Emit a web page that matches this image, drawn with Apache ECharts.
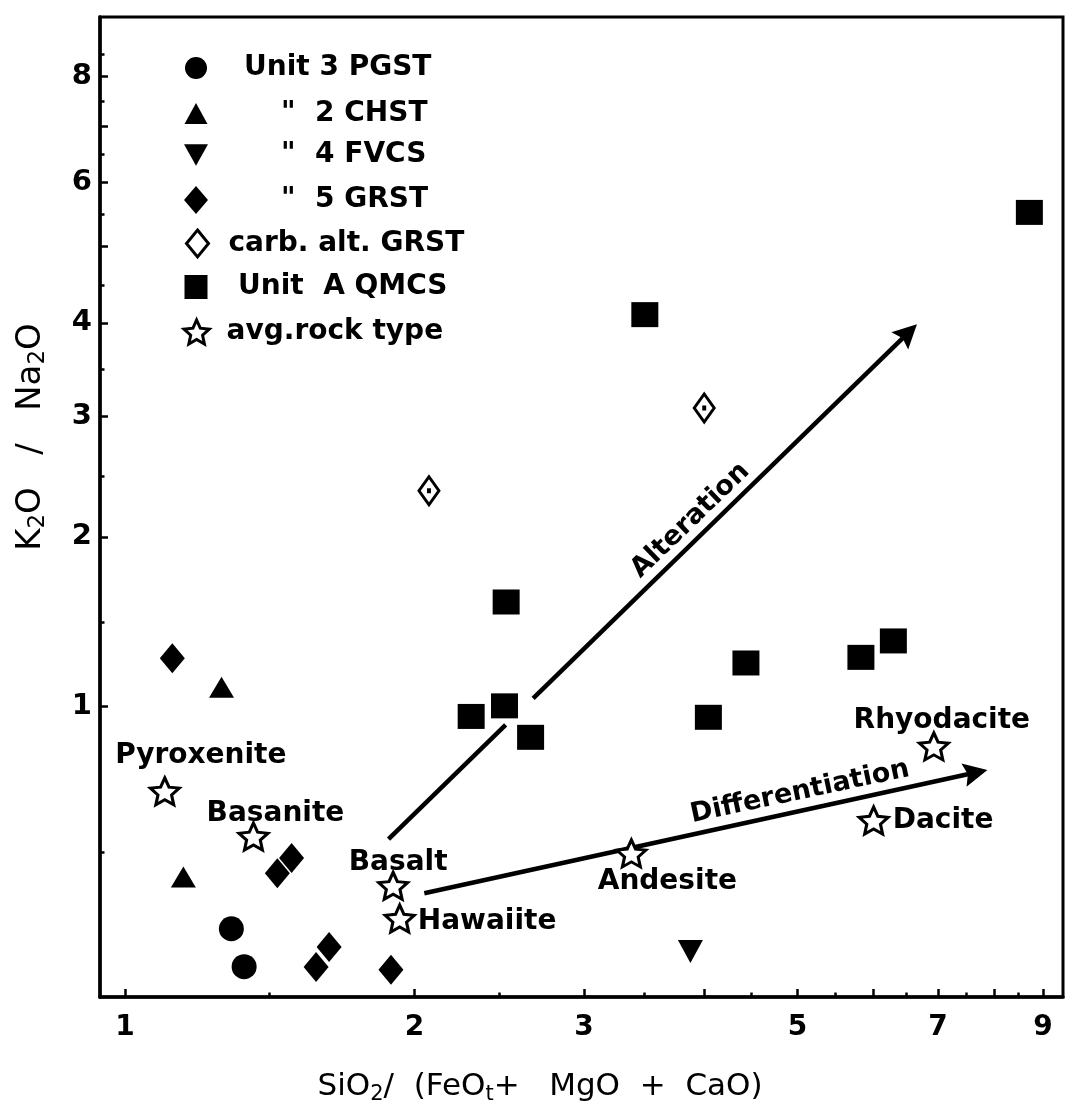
<!DOCTYPE html>
<html>
<head>
<meta charset="utf-8">
<script src="https://cdn.jsdelivr.net/npm/echarts@6/dist/echarts.min.js"></script>
<style>
  html, body { margin: 0; padding: 0; background: #fff; }
  #chart { width: 1071px; height: 1111px; }
</style>
</head>
<body>
<div id="chart"></div>
<script>
// K2O/Na2O against SiO2/(FeOt+MgO+CaO), both on logarithmic scales.

// ---- sample groups: x = SiO2/(FeOt+MgO+CaO), y = K2O/Na2O ----
const pgstX = [1.29, 1.33];
const pgstY = [0.177, 0.075];

const chstX = [1.26, 1.15];
const chstY = [1.095, 0.332];

const fvcsX = [3.87];
const fvcsY = [0.115];

const grstX = [1.12, 1.49, 1.44, 1.58, 1.63, 1.89];
const grstY = [1.245, 0.394, 0.344, 0.074, 0.127, 0.067];

const carbX = [2.07, 4.00];
const carbY = [2.35, 3.08];

const qmcsX = [2.29, 2.48, 2.64, 2.49, 3.47, 4.04, 4.42, 5.82, 6.29, 8.71];
const qmcsY = [0.954, 1.004, 0.859, 1.568, 4.10, 0.95, 1.22, 1.25, 1.34, 5.51];

// average rock types
const rockNames = ['Pyroxenite', 'Basanite', 'Basalt', 'Hawaiite', 'Andesite', 'Dacite', 'Rhyodacite'];
const rockX = [1.10, 1.36, 1.90, 1.93, 3.36, 6.00, 6.93];
const rockY = [0.634, 0.467, 0.304, 0.206, 0.409, 0.524, 0.819];

// trend arrows (x, y pairs); the alteration arrow is broken around the squares
const alterationPath = [[1.879, 0.458], [2.487, 0.915], [2.656, 1.040], [6.52, 3.886]];
const differentiationPath = [[2.047, 0.281], [7.66, 0.709]];
const trendNames = ['Alteration', 'Differentiation'];
const trendLabelX = [3.87, 5.03];
const trendLabelY = [2.12, 0.631];

// ---- axes ----
const xRange = [0.942, 9.44];
const yRange = [0, 9.38];
const xMajorTicks = [1, 2, 3, 4, 5, 6, 7, 8, 9];
const xMinorTicks = [1.414, 2.449, 3.464, 4.472, 5.477, 6.481, 7.483, 8.485];
const xTickLabels = [1, 2, 3, 5, 7, 9];
const yMajorTicks = [1, 2, 3, 4, 5, 6, 7, 8];
const yMinorTicks = [0.414, 1.449, 2.464, 3.472, 4.477, 5.481, 6.483, 7.485, 8.487];
const yTickLabels = [1, 2, 3, 4, 6, 8];

// axis transforms: x is log10(x), y is log10(1 + y)
const toU = x => Math.log10(x);
const toV = y => Math.log10(1 + y);
const pts = (xs, ys) => xs.map((x, i) => [toU(x), toV(ys[i])]);

const FONT = '"DejaVu Sans", "Liberation Sans", sans-serif';
const INK = '#000';

const STAR = 'path://M50,2L63.8,33L97.6,36.5L72.4,59.3L79.4,92.5L50,75.5L20.6,92.5L27.6,59.3L2.4,36.5L36.2,33Z';
const DOWN_TRI = 'path://M0,0L10,0L5,9Z';
const DOTTED_DIAMOND = 'path://M10,0L20,14L10,28L0,14Z M9.3,13.3L10.7,13.3L10.7,14.7L9.3,14.7Z';
const ARROW_HEAD = 'path://M6,0L12,24L6,20L0,24Z';

const names = {
  pgst: 'Unit 3 PGST',
  chst: '"  2 CHST',
  fvcs: '"  4 FVCS',
  grst: '"  5 GRST',
  carb: 'carb. alt. GRST',
  qmcs: 'Unit  A QMCS',
  rock: 'avg.rock type'
};

// label placement of the rock-type names around their stars
const rockLabelPlacement = {
  Pyroxenite: { position: 'inside', offset: [36, -36] },
  Basanite:   { position: 'inside', offset: [22, -23] },
  Basalt:     { position: 'inside', offset: [5, -23] },
  Hawaiite:   { position: 'right', distance: 2, offset: [0, 3] },
  Andesite:   { position: 'inside', offset: [36, 28] },
  Dacite:     { position: 'right', distance: 3, offset: [0, 0] },
  Rhyodacite: { position: 'inside', offset: [8, -26] }
};
const trendLabelRotate = { Alteration: 44, Differentiation: 12 };

const labelText = { fontFamily: FONT, fontWeight: 'bold', fontSize: 28, color: INK, textBorderWidth: 0, opacity: 1 };

// legend: one block per row so every icon keeps its own size
const legendRows = [
  { name: names.pgst, cy: 65,  w: 22, h: 22, textX: 244 },
  { name: names.chst, cy: 110, w: 23, h: 21, textX: 281 },
  { name: names.fvcs, cy: 152, w: 24, h: 22, textX: 281 },
  { name: names.grst, cy: 200, w: 24, h: 28, textX: 281 },
  { name: names.carb, cy: 242, w: 22, h: 27, textX: 227, border: 3, icon: 'diamond' },
  { name: names.qmcs, cy: 285, w: 23, h: 24, textX: 238 },
  { name: names.rock, cy: 330, w: 27, h: 24, textX: 226, border: 3 }
];
const ICON_CX = 196;
const legends = legendRows.map(r => ({
  data: [r.icon ? { name: r.name, icon: r.icon } : r.name],
  left: ICON_CX - r.w / 2,
  top: r.cy - r.h / 2,
  itemWidth: r.w,
  itemHeight: r.h,
  padding: 0,
  selectedMode: false,
  itemStyle: r.border ? { borderWidth: r.border, borderColor: INK } : undefined,
  formatter: '{sp| }{t|{name}}',
  textStyle: {
    rich: {
      sp: { width: r.textX - (ICON_CX + r.w / 2) - 5, fontSize: 28, lineHeight: 20 },
      t: { fontFamily: FONT, fontWeight: 'bold', fontSize: 28, lineHeight: 20, color: INK }
    }
  }
}));

const axisCommon = {
  type: 'value',
  splitLine: { show: false },
  axisPointer: { show: false }
};
const tickStyle = { color: INK, width: 2.5 };
const tickLabel = { fontFamily: FONT, fontWeight: 'bold', fontSize: 28, color: INK };
const solid = { color: INK, opacity: 1 };

const option = {
  animation: false,
  backgroundColor: '#fff',
  textStyle: { fontFamily: FONT },
  grid: {
    left: 100, right: 8, top: 17, bottom: 114,
    show: true, borderColor: INK, borderWidth: 3, backgroundColor: 'transparent'
  },
  legend: legends,
  xAxis: [
    Object.assign({}, axisCommon, {
      min: toU(xRange[0]), max: toU(xRange[1]), position: 'bottom',
      axisLine: { show: true, onZero: false, lineStyle: { color: INK, width: 3.5 } },
      axisTick: { show: true, inside: true, length: 8, lineStyle: tickStyle, customValues: xMajorTicks.map(toU) },
      axisLabel: Object.assign({
        show: true, margin: 17,
        customValues: xTickLabels.map(toU),
        formatter: v => String(Math.round(Math.pow(10, v)))
      }, tickLabel)
    }),
    Object.assign({}, axisCommon, {
      min: toU(xRange[0]), max: toU(xRange[1]), position: 'bottom',
      axisLine: { show: false, onZero: false },
      axisTick: { show: true, inside: true, length: 4.5, lineStyle: tickStyle, customValues: xMinorTicks.map(toU) },
      axisLabel: { show: false }
    })
  ],
  yAxis: [
    Object.assign({}, axisCommon, {
      min: toV(yRange[0]), max: toV(yRange[1]), position: 'left',
      axisLine: { show: true, onZero: false, lineStyle: { color: INK, width: 3.5 } },
      axisTick: { show: true, inside: true, length: 8, lineStyle: tickStyle, customValues: yMajorTicks.map(toV) },
      axisLabel: Object.assign({
        show: true, margin: 8,
        customValues: yTickLabels.map(toV),
        formatter: v => String(Math.round(Math.pow(10, v) - 1))
      }, tickLabel, { fontSize: 29 })
    }),
    Object.assign({}, axisCommon, {
      min: toV(yRange[0]), max: toV(yRange[1]), position: 'left',
      axisLine: { show: false, onZero: false },
      axisTick: { show: true, inside: true, length: 4.5, lineStyle: tickStyle, customValues: yMinorTicks.map(toV) },
      axisLabel: { show: false }
    })
  ],
  graphic: [
    {
      type: 'text', x: 540, y: 1087, silent: true,
      style: {
        text: '{n|SiO}{s|2}{n|/  (FeO}{s|t}{n|+   MgO  +  CaO)}',
        align: 'center', verticalAlign: 'middle',
        rich: {
          n: { fontFamily: FONT, fontSize: 31, lineHeight: 36, fill: INK, verticalAlign: 'middle' },
          s: { fontFamily: FONT, fontSize: 21, lineHeight: 21, fill: INK, verticalAlign: 'bottom' }
        }
      }
    },
    {
      type: 'text', x: 31, y: 437, rotation: Math.PI / 2, silent: true,
      style: {
        text: '{n|K}{s|2}{n|O   /   Na}{s|2}{n|O}',
        align: 'center', verticalAlign: 'middle',
        rich: {
          n: { fontFamily: FONT, fontSize: 34, lineHeight: 38, fill: INK, verticalAlign: 'middle' },
          s: { fontFamily: FONT, fontSize: 23, lineHeight: 23, fill: INK, verticalAlign: 'bottom' }
        }
      }
    }
  ],
  series: [
    {
      type: 'lines', coordinateSystem: 'cartesian2d', silent: true, z: 1,
      lineStyle: { color: INK, width: 4.5, opacity: 1, curveness: 0 },
      symbol: ['none', 'none'],
      data: [{ coords: pts([alterationPath[0][0], alterationPath[1][0]], [alterationPath[0][1], alterationPath[1][1]]) }]
    },
    {
      type: 'lines', coordinateSystem: 'cartesian2d', silent: true, z: 1,
      lineStyle: { color: INK, width: 4.5, opacity: 1, curveness: 0 },
      symbol: ['none', ARROW_HEAD], symbolSize: [14, 24],
      data: [
        { coords: pts([alterationPath[2][0], alterationPath[3][0]], [alterationPath[2][1], alterationPath[3][1]]) },
        { coords: pts(differentiationPath.map(p => p[0]), differentiationPath.map(p => p[1])) }
      ]
    },
    {
      name: names.pgst, type: 'scatter', symbol: 'circle', symbolSize: 25, z: 3,
      itemStyle: solid, data: pts(pgstX, pgstY)
    },
    {
      name: names.chst, type: 'scatter', symbol: 'triangle', symbolSize: [25, 21], z: 3,
      itemStyle: solid, data: pts(chstX, chstY)
    },
    {
      name: names.fvcs, type: 'scatter', symbol: DOWN_TRI, symbolSize: [25, 23], z: 3,
      itemStyle: solid, data: pts(fvcsX, fvcsY)
    },
    {
      name: names.grst, type: 'scatter', symbol: 'diamond', symbolSize: [25, 30], z: 3,
      itemStyle: solid, data: pts(grstX, grstY)
    },
    {
      name: names.carb, type: 'scatter', symbol: DOTTED_DIAMOND, symbolSize: [20, 28], z: 3,
      itemStyle: { color: '#fff', borderColor: INK, borderWidth: 3, opacity: 1 }, data: pts(carbX, carbY)
    },
    {
      name: names.qmcs, type: 'scatter', symbol: 'rect', symbolSize: [27, 25], z: 3,
      itemStyle: solid, data: pts(qmcsX, qmcsY)
    },
    {
      name: names.rock, type: 'scatter', symbol: STAR, symbolSize: [29, 27], z: 4,
      itemStyle: { color: '#fff', borderColor: INK, borderWidth: 3, opacity: 1 },
      label: Object.assign({ show: true, formatter: '{b}' }, labelText),
      data: rockNames.map((n, i) => ({
        name: n,
        value: [toU(rockX[i]), toV(rockY[i])],
        label: rockLabelPlacement[n]
      }))
    },
    {
      name: 'trend labels', type: 'scatter', symbolSize: 1, z: 5, silent: true,
      itemStyle: { color: 'rgba(0,0,0,0)', opacity: 1 },
      label: Object.assign({ show: true, formatter: '{b}', position: 'inside' }, labelText, { fontSize: 27 }),
      data: trendNames.map((n, i) => ({
        name: n,
        value: [toU(trendLabelX[i]), toV(trendLabelY[i])],
        label: { rotate: trendLabelRotate[n] }
      }))
    }
  ]
};

const chart = echarts.init(document.getElementById('chart'), null, { renderer: 'canvas' });
chart.setOption(option);
</script>
</body>
</html>
